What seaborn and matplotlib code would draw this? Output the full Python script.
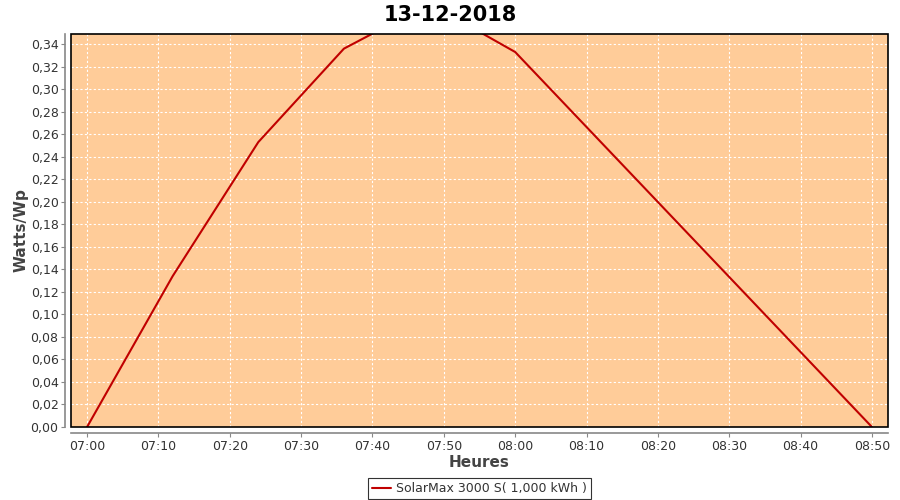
import matplotlib
matplotlib.use("Agg")
import matplotlib.pyplot as plt
import matplotlib.dates as mdates
from matplotlib.patches import Rectangle
from matplotlib.ticker import FuncFormatter, MultipleLocator
import seaborn as sns
import pandas as pd

# data
times = ["07:00", "07:12", "07:24", "07:36", "07:48", "08:00", "08:50"]
watts = [0.0, 0.134, 0.253, 0.336, 0.376, 0.333, 0.0]
series_label = "SolarMax 3000 S( 1,000 kWh )"
title = "13-12-2018"

df = pd.DataFrame({
    "time": pd.to_datetime(["2018-12-13 " + t for t in times]),
    "watts": watts,
})

sns.set_style("white")
plt.rcParams["font.family"] = ["DejaVu Sans"]

fig = plt.figure(figsize=(9, 5), dpi=100)
ax = fig.add_axes([71 / 900, 1 - 427 / 500, 817 / 900, 393 / 500])
ax.set_facecolor("#FFCC99")

sns.lineplot(data=df, x="time", y="watts", ax=ax, color="#C00000",
             linewidth=1.5, label=series_label)

ax.set_xlim(pd.Timestamp("2018-12-13 06:57:45"), pd.Timestamp("2018-12-13 08:52:15"))
ax.set_ylim(0, 0.349)
ax.xaxis.set_major_locator(mdates.MinuteLocator(byminute=range(0, 60, 10)))
ax.xaxis.set_major_formatter(mdates.DateFormatter("%H:%M"))
ax.yaxis.set_major_locator(MultipleLocator(0.02))
ax.yaxis.set_major_formatter(FuncFormatter(lambda v, p: f"{v:.2f}".replace(".", ",")))

ax.grid(True, color="white", linestyle=(0, (2, 2)), linewidth=0.8)
ax.tick_params(axis="both", labelsize=9, colors="#888888", length=3, pad=2,
               direction="out", width=0.8, left=True, bottom=True)
ax.tick_params(axis="both", labelcolor="#333333")

for s in ["top", "right"]:
    ax.spines[s].set_visible(False)
for s in ["left", "bottom"]:
    ax.spines[s].set_color("#888888")
    ax.spines[s].set_linewidth(1.2)
    ax.spines[s].set_position(("outward", 4))
ax.add_patch(Rectangle((0, 0), 1, 1, transform=ax.transAxes, fill=False,
                       edgecolor="black", linewidth=1.2, zorder=5, clip_on=False))

ax.set_xlabel("Heures", fontsize=11, fontweight="bold", color="#444444", labelpad=2)
ax.set_ylabel("Watts/Wp", fontsize=11, fontweight="bold", color="#444444")
ax.yaxis.set_label_coords(-0.052, 0.5)
fig.suptitle(title, fontsize=15, fontweight="bold", color="black", y=0.99)

leg = ax.legend(loc="upper center", bbox_to_anchor=(0.5, -0.115), frameon=True,
                fancybox=False, fontsize=9, handlelength=1.5, borderpad=0.3,
                handletextpad=0.4)
leg.get_frame().set_edgecolor("black")
leg.get_frame().set_linewidth(0.8)
for t in leg.get_texts():
    t.set_color("#333333")

fig.savefig("out.png", dpi=100)
